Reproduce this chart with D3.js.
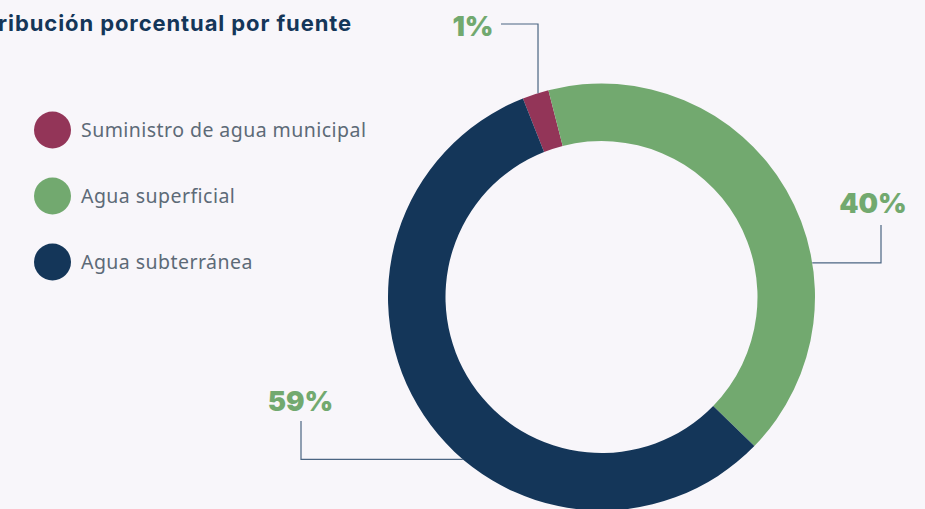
<!DOCTYPE html>
<html>
<head>
<meta charset="utf-8">
<script src="https://cdn.jsdelivr.net/npm/d3@7"></script>
<style>
  html, body { margin: 0; padding: 0; background: #f8f6fa; overflow: hidden; }
  svg { display: block; }
</style>
</head>
<body>
<script>
// datos
var categorias = ['Suministro de agua municipal', 'Agua superficial', 'Agua subterránea'];
var valores = [2.0, 41.3, 56.7];          // tamaño del arco
var etiquetas = ['1%', '40%', '59%'];      // texto mostrado
var colores = ['#933558', '#72a96f', '#143659'];
var titulo = 'Distribución porcentual por fuente';

var width = 925, height = 509;
var cx = 601.5, cy = 297, R = 213.5, r = 156;
var rad = Math.PI / 180;

var svg = d3.select('body')
  .append('svg')
    .attr('width', width)
    .attr('height', height);

svg.append('rect')
  .attr('width', width)
  .attr('height', height)
  .attr('fill', '#f8f6fa');

// titulo (recortado por la izquierda como en el original)
svg.append('text')
  .attr('x', 352)
  .attr('y', 31)
  .attr('text-anchor', 'end')
  .attr('fill', '#143659')
  .attr('font-family', 'Inter, sans-serif')
  .attr('font-weight', 700)
  .attr('font-size', 22)
  .attr('letter-spacing', 0.9)
  .text(titulo);

// leyenda
var yLeyenda = d3.scalePoint()
  .domain(categorias)
  .range([130, 262]);

var leyenda = svg.append('g')
  .selectAll('g')
  .data(categorias)
  .join('g')
    .attr('transform', function(d) { return 'translate(52.5,' + yLeyenda(d) + ')'; });

leyenda.append('circle')
  .attr('r', 18.5)
  .attr('fill', function(d, i) { return colores[i]; });

leyenda.append('text')
  .attr('x', 28.5)
  .attr('y', 6.5)
  .attr('fill', '#5d6a77')
  .attr('font-family', '"Noto Sans", sans-serif')
  .attr('font-size', 19.5)
  .attr('letter-spacing', 0.45)
  .text(function(d) { return d; });

// dona
var pie = d3.pie()
  .sort(null)
  .startAngle(-21.6 * rad)
  .endAngle((360 - 21.6) * rad);

var arc = d3.arc()
  .innerRadius(r)
  .outerRadius(R);

var g = svg.append('g')
  .attr('transform', 'translate(' + cx + ',' + cy + ')');

g.selectAll('path')
  .data(pie(valores))
  .join('path')
    .attr('d', arc)
    .attr('fill', function(d, i) { return colores[i]; });

// lineas guia: angulo donde tocan el anillo, codo y posicion del texto
var guias = [
  { ang: -17.3, codo: 'v', hasta: [24, 501], texto: [473, 36] },
  { ang: 80.8,  codo: 'h', hasta: [881, 225], texto: [873, 213] },
  { ang: 220.5, codo: 'h', hasta: [301, 421], texto: [300.5, 410.5] }
];

function puntoAnillo(a) {
  return [cx + R * Math.sin(a * rad), cy - R * Math.cos(a * rad)];
}

guias.forEach(function(gd, i) {
  var p = puntoAnillo(gd.ang);
  var pts;
  if (gd.codo === 'v') {
    pts = [p, [p[0], gd.hasta[0]], [gd.hasta[1], gd.hasta[0]]];
  } else {
    pts = [p, [gd.hasta[0], p[1]], [gd.hasta[0], gd.hasta[1]]];
  }
  svg.append('path')
    .attr('d', d3.line()(pts))
    .attr('fill', 'none')
    .attr('stroke', '#4b6582')
    .attr('stroke-width', 1.2);

  svg.append('text')
    .attr('x', gd.texto[0])
    .attr('y', gd.texto[1])
    .attr('text-anchor', 'middle')
    .attr('fill', '#72a96f')
    .attr('font-family', 'Inter, sans-serif')
    .attr('font-weight', 900)
    .attr('font-size', 27.5)
    .text(etiquetas[i]);
});
</script>
</body>
</html>
